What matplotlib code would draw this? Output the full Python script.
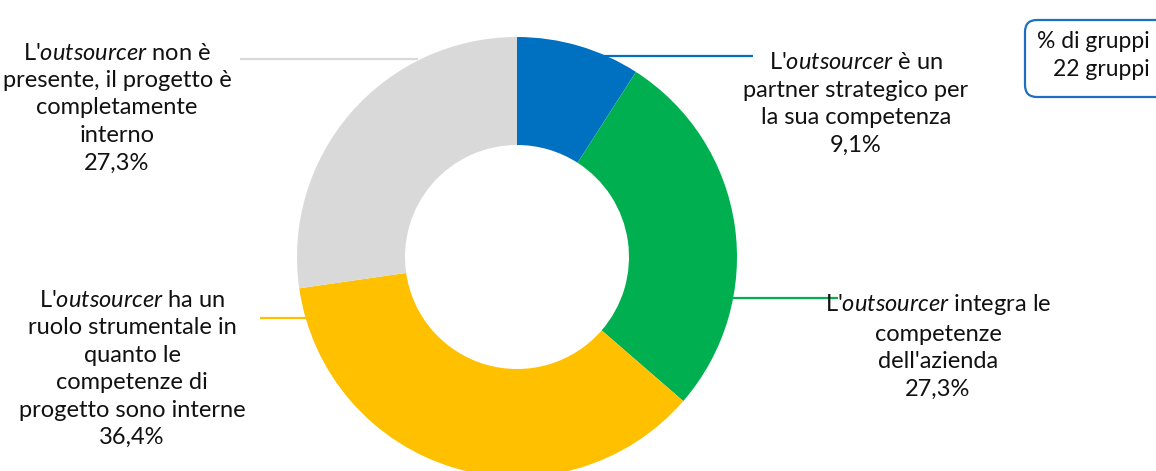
import matplotlib.pyplot as plt
from matplotlib.patches import FancyBboxPatch

plt.rcParams['font.family'] = ['Lato', 'DejaVu Sans']
plt.rcParams['mathtext.fontset'] = 'custom'
plt.rcParams['mathtext.rm'] = 'Lato'
plt.rcParams['mathtext.it'] = 'Lato:italic'

# dati
categorie = [
    "L'$\\it{outsourcer}$ è un\npartner strategico per\nla sua competenza",
    "L'$\\it{outsourcer}$ integra le\ncompetenze\ndell'azienda",
    "L'$\\it{outsourcer}$ ha un\nruolo strumentale in\nquanto le\ncompetenze di\nprogetto sono interne",
    "L'$\\it{outsourcer}$ non è\npresente, il progetto è\ncompletamente\ninterno",
]
valori = [9.1, 27.3, 36.4, 27.3]
colori = ['#0070C0', '#00B050', '#FFC000', '#D9D9D9']

W, H = 1156, 471
fig = plt.figure(figsize=(W / 100, H / 100), dpi=100)
ax = fig.add_axes([0, 0, 1, 1])

cx, cy, R = 517, H - 257, 220
ax.pie(valori, colors=colori, startangle=90, counterclock=False,
       center=(cx, cy), radius=R, frame=True,
       wedgeprops=dict(width=108, linewidth=0))
ax.set_xlim(0, W)
ax.set_ylim(0, H)
ax.set_aspect('equal')
ax.axis('off')

# linee guida e etichette (posizioni in pixel)
linee = [((600, 753), 56), ((733, 838), 298), ((260, 330), 318), ((240, 418), 59)]
pos = [(856, 104), (938, 346), (132, 369), (117, 108)]
for lab, v, col, (xs, y), (tx, ty) in zip(categorie, valori, colori, linee, pos):
    ax.plot(xs, [H - y, H - y], color=col, lw=1.6, solid_capstyle='butt', zorder=1)
    testo = lab + '\n' + f'{v:.1f}%'.replace('.', ',')
    ax.text(tx, H - ty, testo, ha='center', va='center', fontsize=17,
            linespacing=1.38, color='#111111', zorder=3)

box = FancyBboxPatch((1025, H - 97), 150, 77, boxstyle='round,pad=0,rounding_size=12',
                     fc='white', ec='#1F6FC0', lw=1.6, clip_on=False)
ax.add_patch(box)
ax.text(1150, H - 42, '% di gruppi', ha='right', va='center', fontsize=16.5, color='#111111')
ax.text(1150, H - 70, '22 gruppi', ha='right', va='center', fontsize=16.5, color='#111111')

fig.savefig('out.png', dpi=100)
